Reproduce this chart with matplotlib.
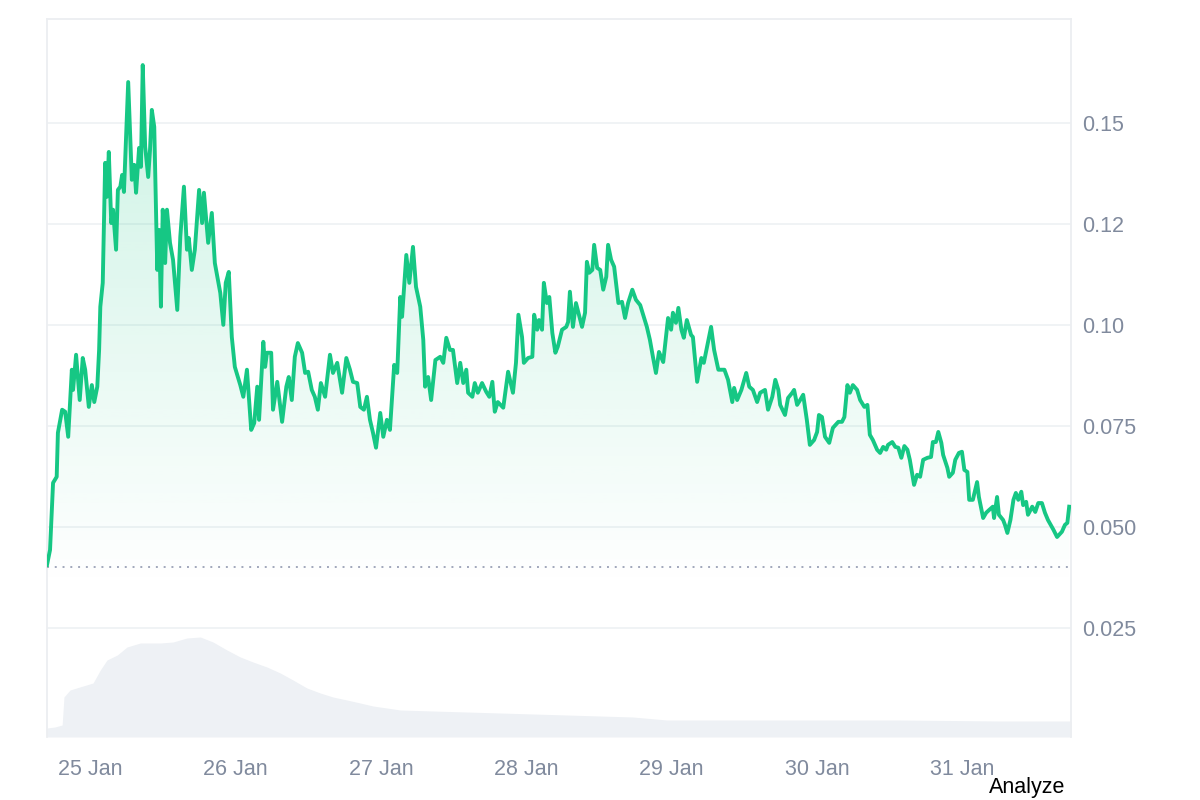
import matplotlib
matplotlib.use("Agg")
import matplotlib.pyplot as plt
import numpy as np
from matplotlib.patches import Polygon

# hours since 25 Jan 00:00
hours = [
    -7.1, -6.6, -6.1, -5.5, -5.3, -4.6, -4.1, -3.6, -3.0, -2.8,
    -2.3, -1.7, -1.2, -0.8, -0.2, 0.3, 0.7, 1.2, 1.5, 1.7,
    2.1, 2.5, 2.8, 3.1, 3.5, 3.8, 4.3, 4.6, 5.0, 5.3,
    5.6, 6.3, 6.9, 7.3, 7.6, 8.1, 8.4, 8.7, 9.1, 9.6,
    9.9, 10.2, 10.6, 11.1, 11.4, 11.7, 12.0, 12.4, 12.7, 13.2,
    13.7, 14.4, 14.9, 15.5, 16.0, 16.3, 16.8, 17.3, 18.0, 18.5,
    18.8, 19.5, 20.1, 20.6, 21.5, 22.0, 22.4, 22.9, 23.4, 23.9,
    24.8, 25.3, 25.9, 26.6, 27.1, 27.6, 27.9, 28.6, 28.9, 29.2,
    29.9, 30.2, 30.9, 31.7, 32.4, 32.8, 33.3, 33.8, 34.3, 35.0,
    35.5, 36.0, 36.6, 37.1, 37.6, 38.1, 38.8, 39.6, 40.1, 40.8,
    41.6, 42.3, 42.9, 43.4, 44.1, 44.6, 45.2, 45.7, 46.2, 46.7,
    47.2, 47.9, 48.4, 49.0, 49.5, 50.2, 50.7, 51.2, 51.5, 52.2,
    52.7, 53.3, 53.8, 54.5, 55.0, 55.3, 55.8, 56.3, 57.0, 57.8,
    58.3, 58.8, 59.4, 59.9, 60.6, 61.1, 61.6, 62.1, 62.4, 63.1,
    63.5, 64.0, 64.7, 65.4, 65.9, 66.4, 66.8, 67.3, 68.2, 69.0,
    69.8, 70.3, 70.7, 71.3, 71.6, 72.3, 73.0, 73.3, 73.8, 74.1,
    74.6, 74.9, 75.4, 75.8, 76.3, 76.8, 77.2, 77.9, 78.6, 78.9,
    79.2, 79.7, 80.2, 80.7, 81.2, 81.7, 82.0, 82.4, 82.9, 83.2,
    83.7, 84.2, 84.7, 85.2, 85.5, 86.0, 86.5, 87.2, 87.8, 88.3,
    88.8, 89.5, 90.1, 90.8, 91.4, 91.9, 92.4, 92.9, 93.4, 93.9,
    94.6, 95.4, 95.9, 96.2, 96.7, 97.1, 97.6, 98.0, 98.5, 99.2,
    99.5, 100.2, 100.9, 101.3, 101.8, 102.5, 103.0, 103.7, 104.7, 105.3,
    106.0, 106.3, 106.8, 107.5, 108.3, 108.8, 109.4, 110.1, 110.6, 111.4,
    111.9, 112.6, 113.1, 113.6, 113.9, 114.7, 115.2, 115.9, 116.2, 116.7,
    117.2, 117.7, 118.3, 118.8, 119.5, 120.0, 120.3, 120.8, 121.3, 122.0,
    122.6, 123.5, 124.1, 124.5, 125.0, 125.4, 125.9, 126.6, 127.1, 127.8,
    128.3, 128.7, 129.2, 129.9, 130.4, 130.9, 131.4, 131.7, 132.4, 132.9,
    133.4, 133.9, 134.4, 134.9, 135.3, 136.0, 136.5, 137.0, 137.5, 138.2,
    138.8, 139.1, 139.6, 140.0, 140.5, 140.8, 141.5, 141.8, 142.4, 142.8,
    143.4, 143.9, 144.3, 144.8, 145.1, 145.7, 146.4, 146.7, 147.4, 147.9,
    148.4, 149.0, 149.2, 149.7, 150.0, 150.7, 151.0, 151.4, 151.9, 152.4,
    152.8, 153.2, 153.7, 154.0, 154.5, 154.8, 155.5, 156.0, 156.5, 157.1,
    157.6, 158.1, 159.0, 159.6, 160.4, 160.9, 161.3, 161.6,
]
price = [
    .0406, .0443, .0609, .0624, .0733, .0790, .0785, .0723, .0889, .0839,
    .0926, .0814, .0918, .0889, .0797, .0851, .0809, .0847, .0938, .1045,
    .1104, .1401, .1317, .1428, .1252, .1285, .1186, .1334, .1342, .1371,
    .1329, .1601, .1359, .1396, .1327, .1438, .1391, .1643, .1441, .1366,
    .1433, .1532, .1490, .1136, .1235, .1045, .1285, .1153, .1285, .1203,
    .1161, .1037, .1218, .1342, .1186, .1215, .1136, .1186, .1334, .1252,
    .1327, .1203, .1277, .1153, .1079, .1000, .1104, .1131, .0970, .0896,
    .0851, .0822, .0889, .0740, .0757, .0847, .0765, .0958, .0896, .0931,
    .0931, .0790, .0859, .0760, .0847, .0871, .0814, .0921, .0955, .0931,
    .0881, .0884, .0839, .0822, .0790, .0856, .0822, .0926, .0881, .0906,
    .0832, .0918, .0889, .0859, .0856, .0797, .0790, .0822, .0765, .0733,
    .0696, .0782, .0723, .0765, .0740, .0901, .0881, .1069, .1020, .1173,
    .1104, .1193, .1094, .1045, .0963, .0847, .0871, .0814, .0913, .0921,
    .0906, .0968, .0938, .0938, .0856, .0906, .0856, .0889, .0832, .0822,
    .0856, .0832, .0856, .0834, .0822, .0859, .0785, .0809, .0795, .0884,
    .0832, .0906, .1025, .0970, .0906, .0918, .0921, .1025, .0988, .1012,
    .0988, .1104, .1054, .1069, .0980, .0931, .0946, .0988, .0995, .1007,
    .1082, .0995, .1054, .1025, .0995, .1030, .1156, .1129, .1136, .1198,
    .1141, .1136, .1087, .1119, .1198, .1161, .1144, .1054, .1057, .1017,
    .1054, .1087, .1062, .1049, .1020, .0995, .0963, .0921, .0881, .0933,
    .0908, .1017, .0988, .1030, .1005, .1042, .0988, .0968, .1012, .0975,
    .0970, .0859, .0918, .0906, .0943, .0995, .0938, .0889, .0889, .0864,
    .0809, .0844, .0814, .0839, .0881, .0847, .0839, .0809, .0832, .0839,
    .0790, .0822, .0864, .0839, .0802, .0777, .0819, .0832, .0839, .0802,
    .0814, .0827, .0765, .0703, .0715, .0735, .0777, .0772, .0723, .0708,
    .0745, .0760, .0760, .0772, .0851, .0832, .0851, .0839, .0814, .0797,
    .0802, .0728, .0715, .0691, .0683, .0698, .0691, .0703, .0710, .0698,
    .0696, .0671, .0700, .0691, .0666, .0604, .0629, .0624, .0666, .0671,
    .0673, .0710, .0710, .0735, .0708, .0678, .0646, .0624, .0634, .0666,
    .0683, .0686, .0641, .0636, .0567, .0567, .0611, .0574, .0522, .0535,
    .0542, .0550, .0522, .0574, .0530, .0517, .0505, .0485, .0517, .0567,
    .0584, .0567, .0587, .0554, .0562, .0530, .0550, .0537, .0559, .0559,
    .0535, .0517, .0493, .0475, .0488, .0505, .0510, .0550,
]

vol_hours = [-7.1, -5.8, -4.6, -4.3, -3.3, -1.7, 0.5, 1.7, 2.8, 4.5, 6.1, 8.3,
             11.6, 13.7, 16.0, 18.2, 20.3, 22.6, 24.8, 26.9, 29.2, 31.4, 33.5,
             35.8, 38.0, 40.1, 42.4, 44.6, 46.7, 49.0, 51.2, 56.6, 67.7, 78.7,
             89.6, 95.2, 106.1, 117.2, 133.7, 150.2, 161.9]
volume = [2.25, 2.5, 3.0, 10.0, 11.75, 12.5, 13.5, 16.75, 19.25, 20.5, 22.5, 23.5,
          23.5, 23.75, 24.75, 25.0, 23.75, 21.75, 20.0, 18.75, 17.5, 16.0, 14.25,
          12.25, 11.0, 10.0, 9.25, 8.5, 7.75, 7.25, 6.75, 6.5, 6.0, 5.5,
          5.0, 4.25, 4.25, 4.25, 4.25, 4.0, 4.0]

open_price = 0.0401
ytick_vals = [0.025, 0.05, 0.075, 0.10, 0.125, 0.15]
ytick_labels = ["0.025", "0.050", "0.075", "0.10", "0.12", "0.15"]
day_hours = [0, 24, 48, 72, 96, 120, 144]
day_labels = ["25 Jan", "26 Jan", "27 Jan", "28 Jan", "29 Jan", "30 Jan", "31 Jan"]

plt.rcParams["font.family"] = ["Liberation Sans", "DejaVu Sans"]

green = "#16c784"
grey_txt = "#808a9d"
xmin, xmax = -7.1, 161.9
ymin, ymax = -0.002, 0.1757

fig = plt.figure(figsize=(12, 8), dpi=100)
rect = [47 / 1200, 63 / 800, 1024 / 1200, 718 / 800]

# volume band in its own axes, behind the price
axv = fig.add_axes(rect)
axv.fill_between(vol_hours, volume, 0, color="#eef1f5", lw=0)
axv.set_xlim(xmin, xmax)
axv.set_ylim(0, 179.5)
axv.axis("off")

ax = fig.add_axes(rect)
ax.patch.set_alpha(0)

# gradient under the line
vals = np.linspace(ymin, ymax, 300)
alpha = np.clip((vals - 0.035) / (0.165 - 0.035), 0, 1) * 0.22
grad = np.zeros((300, 1, 4))
grad[:, 0, :3] = matplotlib.colors.to_rgb(green)
grad[:, 0, 3] = alpha
img = ax.imshow(grad, extent=[xmin, xmax, ymin, ymax], aspect="auto",
                origin="lower", zorder=2)
verts = [(hours[0], ymin)] + list(zip(hours, price)) + [(hours[-1], ymin)]
clip = Polygon(verts, closed=True, facecolor="none", edgecolor="none",
               transform=ax.transData)
ax.add_patch(clip)
img.set_clip_path(clip)

ax.plot(hours, price, color=green, lw=2.8, solid_joinstyle="round", zorder=4)
ax.axhline(open_price, color="#a1a7bb", lw=1.4, ls=(0, (1, 3)), zorder=3)

ax.set_xlim(xmin, xmax)
ax.set_ylim(ymin, ymax)
ax.set_yticks(ytick_vals)
ax.set_yticklabels(ytick_labels)
ax.yaxis.tick_right()
ax.set_xticks(day_hours)
ax.set_xticklabels(day_labels)
ax.yaxis.grid(True, color="#eff2f5", lw=1.3)
ax.set_axisbelow(True)
ax.tick_params(axis="y", length=0, pad=8, labelsize=15.5, labelcolor=grey_txt)
ax.tick_params(axis="x", length=0, pad=16, labelsize=15.5, labelcolor=grey_txt)
for side in ["left", "top", "right"]:
    ax.spines[side].set_color("#eceef1")
    ax.spines[side].set_linewidth(1.3)
ax.spines["bottom"].set_visible(False)

fig.text(1065 / 1200, 1 - 788 / 800, "Analyze", ha="right", va="center",
         fontsize=15.5, color="black")

fig.savefig("out.png", dpi=100)
